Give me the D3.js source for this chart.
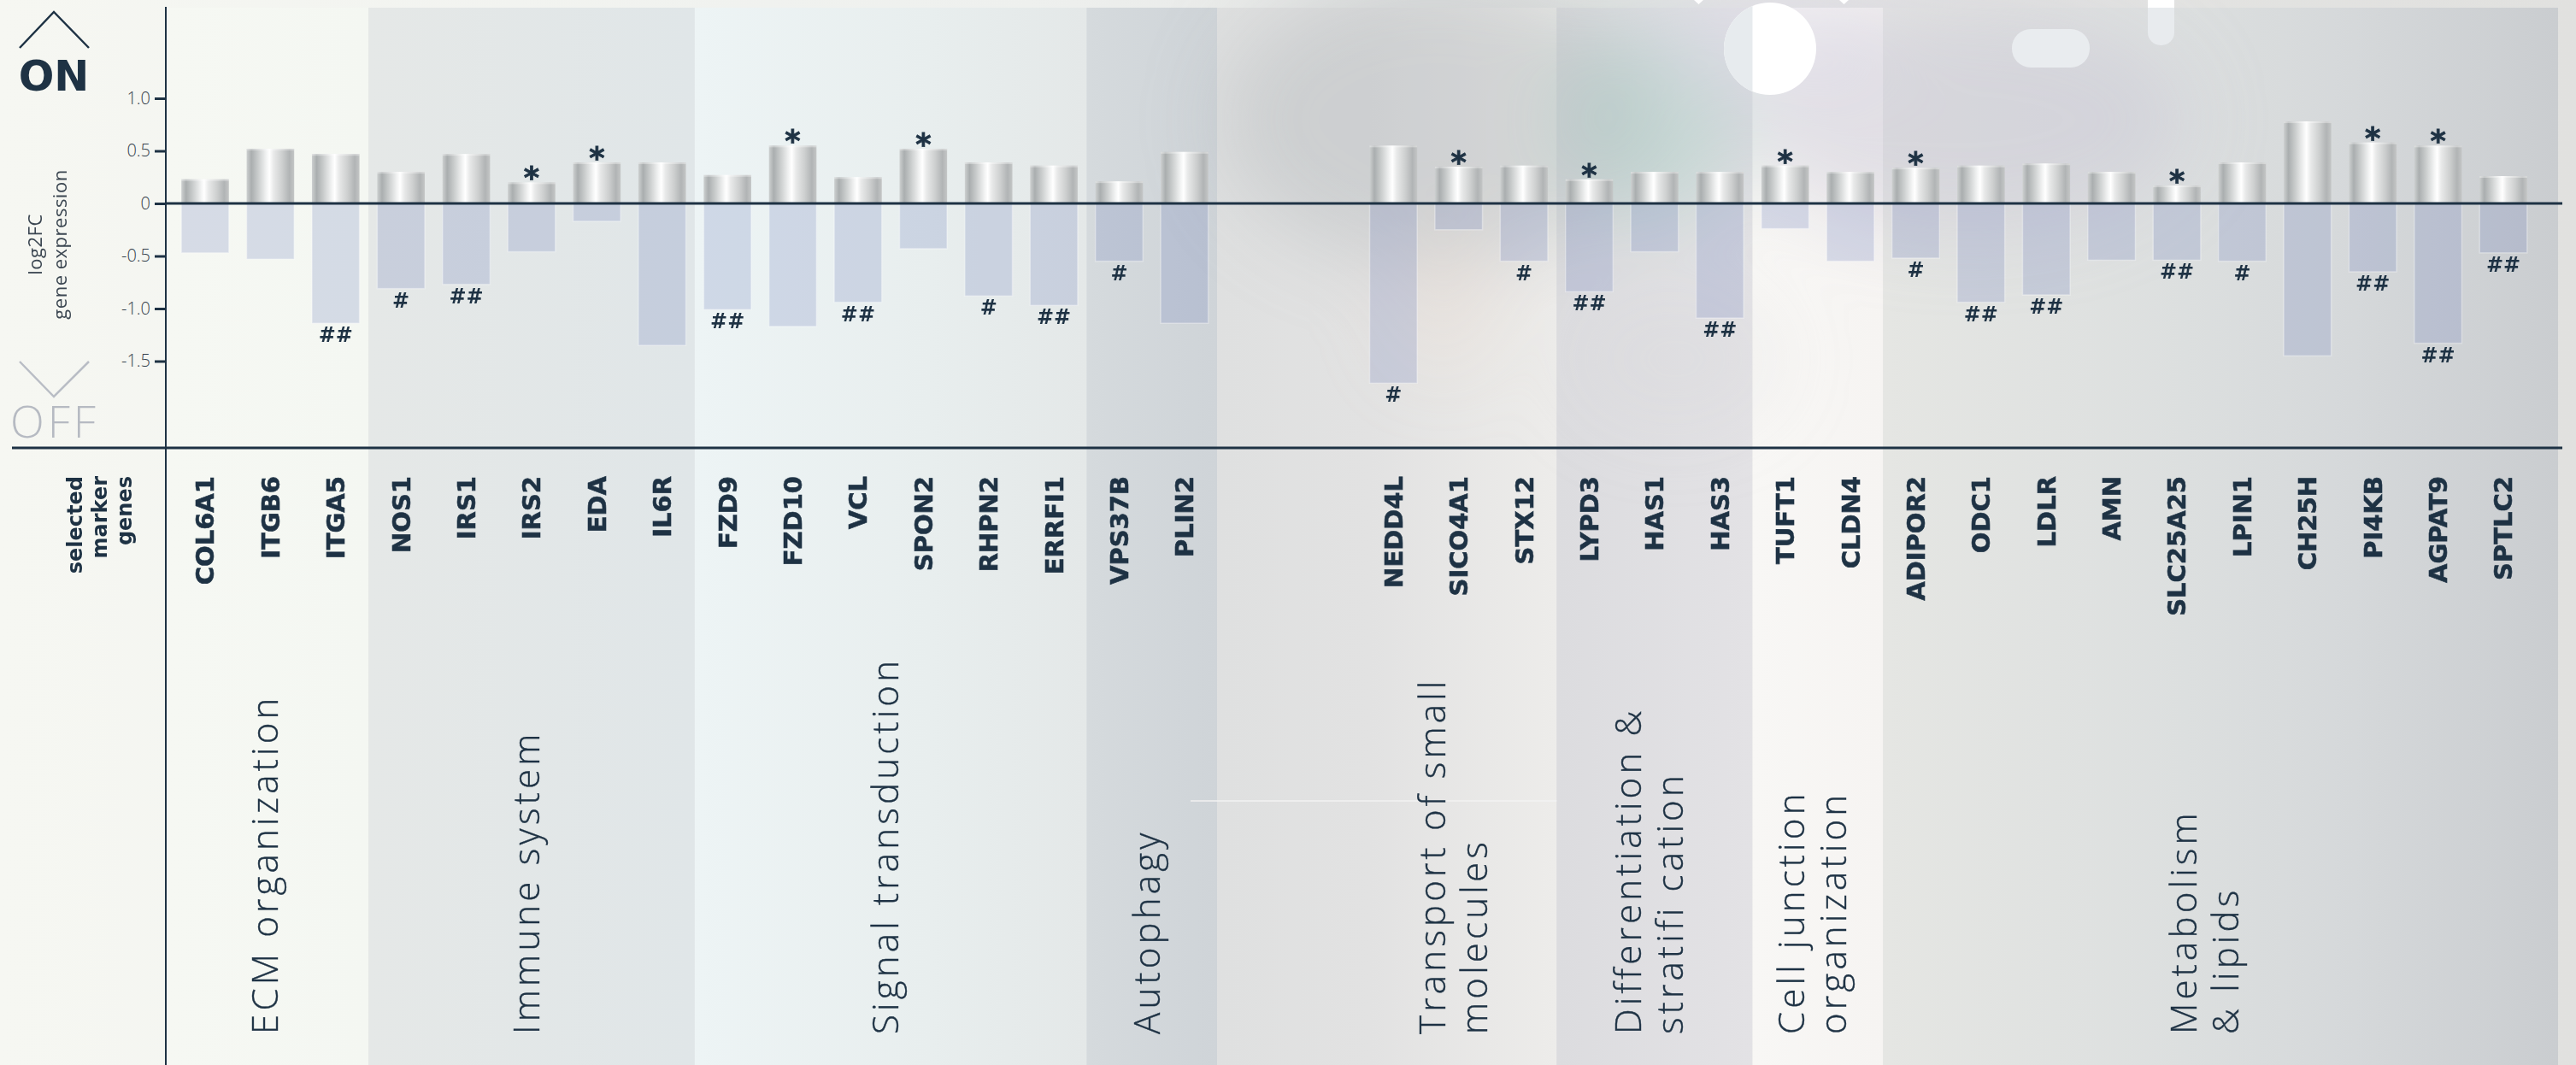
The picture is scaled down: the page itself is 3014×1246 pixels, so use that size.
<!DOCTYPE html>
<html>
<head>
<meta charset="utf-8">
<script src="https://cdn.jsdelivr.net/npm/d3@7"></script>
<style>
  html, body { margin: 0; padding: 0; background: #f6f7f2; }
  svg { display: block; }
</style>
</head>
<body>
<svg id="chart" width="3014" height="1246"></svg>
<script>
// ---- data ----
const genes = ["COL6A1","ITGB6","ITGA5","NOS1","IRS1","IRS2","EDA","IL6R",
  "FZD9","FZD10","VCL","SPON2","RHPN2","ERRFI1","VPS37B","PLIN2",
  "NEDD4L","SICO4A1","STX12","LYPD3","HAS1","HAS3","TUFT1","CLDN4",
  "ADIPOR2","ODC1","LDLR","AMN","SLC25A25","LPIN1","CH25H","PI4KB","AGPAT9","SPTLC2"];

// log2FC of the "ON" condition (upper bars)
const upValues = [0.23,0.52,0.47,0.30,0.47,0.20,0.39,0.39,
  0.27,0.55,0.25,0.52,0.39,0.36,0.21,0.49,
  0.55,0.35,0.36,0.23,0.30,0.30,0.36,0.30,
  0.34,0.36,0.38,0.30,0.17,0.39,0.78,0.58,0.55,0.26];

// log2FC of the "OFF" condition (lower bars)
const downValues = [-0.47,-0.53,-1.14,-0.81,-0.77,-0.46,-0.17,-1.35,
  -1.01,-1.17,-0.94,-0.43,-0.88,-0.97,-0.55,-1.14,
  -1.71,-0.25,-0.55,-0.84,-0.46,-1.09,-0.24,-0.55,
  -0.52,-0.94,-0.87,-0.54,-0.54,-0.55,-1.45,-0.65,-1.33,-0.47];

// significance marks
const upMarks = ["","","","","","*","*","",
  "","*","","*","","","","",
  "","*","","*","","","*","",
  "*","","","","*","","","*","*",""];
const downMarks = ["","","##","#","##","","","",
  "##","","##","","#","##","#","",
  "#","","#","##","","##","","",
  "#","##","##","","##","#","","##","##","##"];

// functional groups, in gene order
const groupSizes = [3,5,6,2,3,3,2,10];
const groupLabels = [
  ["ECM organization"],
  ["Immune system"],
  ["Signal transduction"],
  ["Autophagy"],
  ["Transport of small","molecules"],
  ["Differentiation &","stratifi cation"],
  ["Cell junction","organization"],
  ["Metabolism","& lipids"]
];

const yTicks = [1.0, 0.5, 0, -0.5, -1.0, -1.5];
const yTickLabels = ["1.0","0.5","0","-0.5","-1.0","-1.5"];

// ---- layout ----
const W = 3014, H = 1246;
const navy = "#1e3244";
const axisX = 194, zeroRight = 2998, plotRight = 2993;
const bandTop = 9, sepY = 524;
const gapAfterGroup = 3;   // empty space after the Autophagy group
const gapSlots = 2.2;

const svg = d3.select("#chart");
const defs = svg.append("defs");

// group index ranges
let acc = 0;
const groups = groupSizes.map((n, i) => {
  const g = { i, first: acc, last: acc + n - 1, lines: groupLabels[i] };
  acc += n;
  return g;
});
const gapStartIndex = groups[gapAfterGroup].last + 1;
const slotOf = i => (i < gapStartIndex ? i : i + gapSlots);

const x = d3.scaleLinear()
  .domain([0, slotOf(genes.length - 1)])
  .range([240, 2929]);
const step = x(1) - x(0);
const barW = step * 0.728;

const y = d3.scaleLinear().domain([-1.5, 1.0]).range([422.5, 115]);
const y0 = y(0);

// ---- gradients ----
function hGrad(id, stops) {
  const g = defs.append("linearGradient").attr("id", id)
    .attr("x1", 0).attr("x2", 1).attr("y1", 0).attr("y2", 0);
  stops.forEach(([o, c]) => g.append("stop").attr("offset", o).attr("stop-color", c));
}
hGrad("bg", [[0, "#f6f7f2"], [0.4, "#eef0ee"], [0.55, "#e5e6e5"], [1, "#e1e1df"]]);
hGrad("metal", [[0, "#cdd0d0"], [0.1, "#aaaeaf"], [0.24, "#c9cccc"], [0.42, "#f3f4f4"],
  [0.48, "#ffffff"], [0.57, "#e8e9e9"], [0.75, "#cdcfcf"], [0.9, "#b1b4b5"], [1, "#c4c6c6"]]);

const bandStops = [
  [[0, "#f6f8f3"], [1, "#f4f7f2"]],
  [[0, "#e5e8e7"], [1, "#e0e6e8"]],
  [[0, "#edf4f5"], [0.6, "#e8eeee"], [1, "#e4e8e8"]],
  [[0, "#d5dadd"], [1, "#cfd4d8"]],
  [[0, "#dfe0e0"], [0.45, "#e2e2e2"], [1, "#edecea"]],
  [[0, "#dcdcdf"], [1, "#e3e2e5"]],
  [[0, "#f8f7f5"], [1, "#f6f4f2"]],
  [[0, "#e5e6e3"], [0.45, "#dcdfdf"], [0.7, "#d5d8da"], [1, "#cacdd0"]]
];
bandStops.forEach((s, i) => hGrad("band" + i, s));

const haze = defs.append("filter").attr("id", "haze")
  .attr("x", "-50%").attr("y", "-50%").attr("width", "200%").attr("height", "200%");
haze.append("feGaussianBlur").attr("stdDeviation", 45);

// ---- background ----
svg.append("rect").attr("width", W).attr("height", H).attr("fill", "url(#bg)");

// band extents
groups.forEach((g, i) => {
  g.x0 = i === 0 ? axisX : groups[i - 1].x1;
  g.x1 = i === groups.length - 1 ? plotRight : x(slotOf(g.last)) + step / 2;
  g.cx = (x(slotOf(g.first)) + x(slotOf(g.last))) / 2;
});

svg.append("g").selectAll("rect").data(groups).join("rect")
  .attr("x", d => d.x0).attr("y", bandTop)
  .attr("width", d => d.x1 - d.x0).attr("height", H - bandTop)
  .attr("fill", (d, i) => `url(#band${i})`);

// soft coloured haze across the upper middle
const hazeG = svg.append("g").attr("filter", "url(#haze)");
[
  [1680, 140, 250, 170, "#aeb5b8", 0.40],
  [1935, 140, 110, 120, "#a3cbc1", 0.40],
  [2300, 140, 260, 130, "#c3c0d3", 0.40],
  [2070, 40, 150, 60, "#dcd8e6", 0.45],
  [1690, 350, 60, 80, "#f0dccd", 0.30],
  [1960, 420, 120, 80, "#d6d7dc", 0.25]
].forEach(([cx, cy, rx, ry, c, o]) => {
  hazeG.append("ellipse").attr("cx", cx).attr("cy", cy).attr("rx", rx).attr("ry", ry)
    .attr("fill", c).attr("opacity", o);
});

// light glare shapes near the top
const diffBand = groups[5];
defs.append("clipPath").attr("id", "leftPart").append("rect")
  .attr("x", 0).attr("y", 0).attr("width", diffBand.x1).attr("height", H);
svg.append("circle").attr("cx", 2071).attr("cy", 57).attr("r", 54).attr("fill", "#ffffff");
svg.append("circle").attr("cx", 2071).attr("cy", 57).attr("r", 54).attr("fill", "#e7ebee")
  .attr("clip-path", "url(#leftPart)");
svg.append("rect").attr("x", 2354).attr("y", 34).attr("width", 91).attr("height", 45)
  .attr("rx", 22).attr("fill", "#e9ecef");
svg.append("rect").attr("x", 2513).attr("y", -30).attr("width", 31).attr("height", 83)
  .attr("rx", 15).attr("fill", "#e8ebee");
svg.append("rect").attr("x", 2513).attr("y", -30).attr("width", 31).attr("height", 39)
  .attr("fill", "#ffffff");
svg.append("path").attr("d", "M1982,0 L1993,0 L1987.5,5 Z M2152,0 L2163,0 L2157.5,5 Z")
  .attr("fill", "#ffffff");
svg.append("line").attr("x1", 1393).attr("x2", diffBand.x0).attr("y1", 937).attr("y2", 937)
  .attr("stroke", "#f4f4f4").attr("stroke-width", 2).attr("opacity", 0.7);

// ---- bars ----
const bars = svg.append("g");
bars.selectAll("rect.down").data(genes).join("rect").attr("class", "down")
  .attr("x", (d, i) => x(slotOf(i)) - barW / 2)
  .attr("y", y0)
  .attr("width", barW)
  .attr("height", (d, i) => y(downValues[i]) - y0)
  .attr("fill", "rgb(112,128,190)").attr("fill-opacity", 0.24)
  .attr("stroke", "#ffffff").attr("stroke-opacity", 0.35).attr("stroke-width", 1.5);

bars.selectAll("rect.up").data(genes).join("rect").attr("class", "up")
  .attr("x", (d, i) => x(slotOf(i)) - barW / 2)
  .attr("y", (d, i) => y(upValues[i]))
  .attr("width", barW)
  .attr("height", (d, i) => y0 - y(upValues[i]))
  .attr("fill", "url(#metal)");
bars.selectAll("rect.cap").data(genes).join("rect").attr("class", "cap")
  .attr("x", (d, i) => x(slotOf(i)) - barW / 2)
  .attr("y", (d, i) => y(upValues[i]))
  .attr("width", barW).attr("height", 2)
  .attr("fill", "#ffffff").attr("opacity", 0.35);

// significance marks
const marks = svg.append("g").attr("fill", navy)
  .attr("font-family", "'DejaVu Sans', sans-serif").attr("font-weight", "bold")
  .attr("text-anchor", "middle");
marks.selectAll("text.star").data(genes).join("text").attr("class", "star")
  .attr("x", (d, i) => x(slotOf(i)))
  .attr("y", (d, i) => y(upValues[i]) + 7)
  .attr("font-size", 35)
  .attr("stroke", navy).attr("stroke-width", 0.8)
  .text((d, i) => upMarks[i]);
marks.selectAll("text.hash").data(genes).join("text").attr("class", "hash")
  .attr("x", (d, i) => x(slotOf(i)))
  .attr("y", (d, i) => y(downValues[i]) + 22)
  .attr("font-size", 24)
  .text((d, i) => downMarks[i]);

// ---- axes and rules ----
const yAxis = d3.axisLeft(y).tickValues(yTicks)
  .tickFormat((d, i) => yTickLabels[i]).tickSize(13).tickPadding(5);
const ax = svg.append("g").attr("transform", `translate(${axisX},0)`).call(yAxis);
ax.select(".domain").remove();
ax.selectAll(".tick line").attr("stroke", navy).attr("stroke-width", 3);
ax.selectAll(".tick text").attr("fill", "#34404b")
  .attr("font-family", "'Open Sans', sans-serif").attr("font-weight", 300)
  .attr("font-size", 20);

svg.append("line").attr("x1", axisX).attr("x2", axisX).attr("y1", 8).attr("y2", H)
  .attr("stroke", navy).attr("stroke-width", 2);
svg.append("line").attr("x1", axisX).attr("x2", zeroRight).attr("y1", y0).attr("y2", y0)
  .attr("stroke", navy).attr("stroke-width", 3);
svg.append("line").attr("x1", 14).attr("x2", zeroRight).attr("y1", sepY).attr("y2", sepY)
  .attr("stroke", navy).attr("stroke-width", 3);

// ---- ON / OFF legend ----
svg.append("polyline").attr("points", "23,56 63,14 104,56")
  .attr("fill", "none").attr("stroke", navy).attr("stroke-width", 2.5);
svg.append("text").attr("x", 63).attr("y", 106).attr("text-anchor", "middle")
  .attr("font-family", "'DejaVu Sans', sans-serif").attr("font-weight", "bold")
  .attr("font-size", 49).attr("fill", navy).text("ON");
svg.append("polyline").attr("points", "23,423 63,464 104,423")
  .attr("fill", "none").attr("stroke", "#b9bdc5").attr("stroke-width", 2.5);
svg.append("text").attr("x", 64).attr("y", 512).attr("text-anchor", "middle")
  .attr("font-family", "'Open Sans', sans-serif").attr("font-weight", 300)
  .attr("font-size", 52).attr("letter-spacing", 4).attr("fill", "#b6bac2").text("OFF");

// y axis title
const yTitle = ["log2FC", "gene expression"];
svg.append("g").selectAll("text").data(yTitle).join("text")
  .attr("transform", (d, i) => `translate(${49 + i * 29},286) rotate(-90)`)
  .attr("text-anchor", "middle")
  .attr("font-family", "'Open Sans', sans-serif").attr("font-size", 22)
  .attr("letter-spacing", 0.5).attr("fill", "#3b4651").text(d => d);

// row header for gene names
const rowHeader = ["selected", "marker", "genes"];
svg.append("g").selectAll("text").data(rowHeader).join("text")
  .attr("transform", (d, i) => `translate(${96 + i * 29},557) rotate(-90)`)
  .attr("text-anchor", "end")
  .attr("font-family", "'DejaVu Sans', sans-serif").attr("font-weight", "bold")
  .attr("font-size", 24).attr("fill", navy).text(d => d);

// gene names
const geneFont = 29;
svg.append("g").selectAll("text").data(genes).join("text")
  .attr("transform", (d, i) => `translate(${x(slotOf(i)) + geneFont * 0.36},557) rotate(-90)`)
  .attr("text-anchor", "end")
  .attr("font-family", "'DejaVu Sans', sans-serif").attr("font-weight", "bold")
  .attr("font-size", geneFont).attr("fill", navy)
  .attr("stroke", navy).attr("stroke-width", 0.6).text(d => d);

// group names
const catFont = 42, catLine = 49;
const catG = svg.append("g")
  .attr("font-family", "'Open Sans', sans-serif").attr("font-weight", 300)
  .attr("font-size", catFont).attr("letter-spacing", 4.2).attr("fill", navy)
  .attr("stroke", navy).attr("stroke-width", 0.4);
groups.forEach(g => {
  const n = g.lines.length;
  const capH = catFont * 0.714;
  const firstCenter = g.cx - 6 - (n - 1) * catLine / 2;
  g.lines.forEach((line, j) => {
    catG.append("text")
      .attr("transform", `translate(${firstCenter + j * catLine + capH / 2},1210) rotate(-90)`)
      .attr("text-anchor", "start").text(line);
  });
});
</script>
</body>
</html>
